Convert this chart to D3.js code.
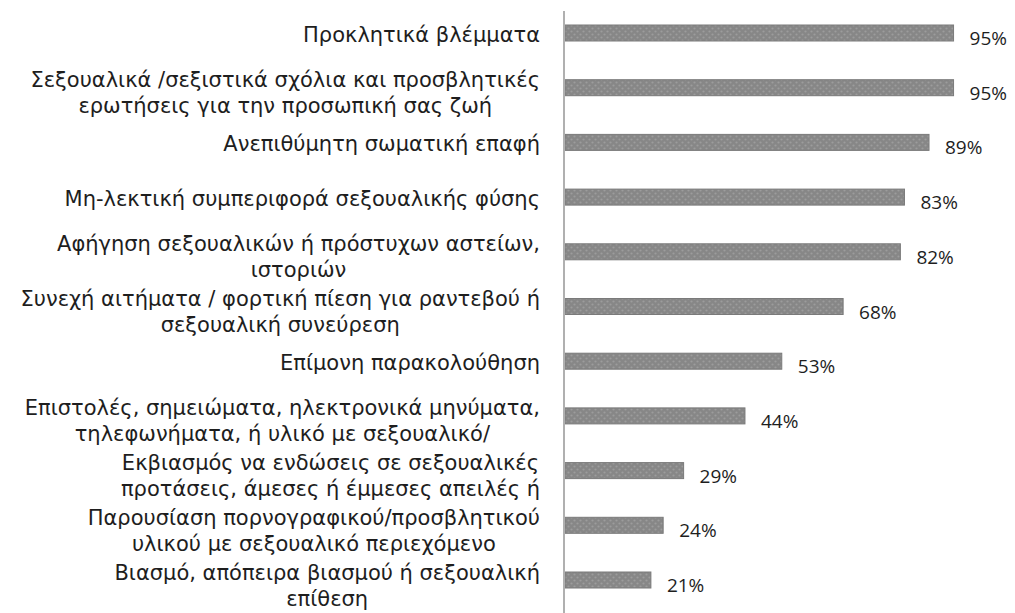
<!DOCTYPE html>
<html>
<head>
<meta charset="utf-8">
<script src="https://cdn.jsdelivr.net/npm/d3@7/dist/d3.min.js"></script>
<style>
  html, body { margin: 0; padding: 0; background: #fff; }
  svg { display: block; }
  text { font-family: "Open Sans", "Noto Sans", sans-serif; fill: #1e1e1e; }
  text.cat { font-family: "DejaVu Sans", "Open Sans", sans-serif; }
</style>
</head>
<body>
<svg id="chart" width="1015" height="613"></svg>
<script>
// Categories: each label is split into the lines it is drawn on
const categories = [
  ["Προκλητικά βλέμματα"],
  ["Σεξουαλικά /σεξιστικά σχόλια και προσβλητικές", "ερωτήσεις για την προσωπική σας ζωή"],
  ["Ανεπιθύμητη σωματική επαφή"],
  ["Μη-λεκτική συμπεριφορά σεξουαλικής φύσης"],
  ["Αφήγηση σεξουαλικών ή πρόστυχων αστείων,", "ιστοριών"],
  ["Συνεχή αιτήματα / φορτική πίεση για ραντεβού ή", "σεξουαλική συνεύρεση"],
  ["Επίμονη παρακολούθηση"],
  ["Επιστολές, σημειώματα, ηλεκτρονικά μηνύματα,", "τηλεφωνήματα, ή υλικό με σεξουαλικό/"],
  ["Εκβιασμός να ενδώσεις σε σεξουαλικές", "προτάσεις, άμεσες ή έμμεσες απειλές ή"],
  ["Παρουσίαση πορνογραφικού/προσβλητικού", "υλικού με σεξουαλικό περιεχόμενο"],
  ["Βιασμό, απόπειρα βιασμού ή σεξουαλική", "επίθεση"]
];
// Share of respondents (%)
const values = [95, 95, 89, 83, 82, 68, 53, 44, 29, 24, 21];

const svg = d3.select("#chart");
const axisX = 564;
const labelRight = 540;

const x = d3.scaleLinear().domain([0, 100]).range([axisX + 1, axisX + 1 + 409]);
const y = d3.scalePoint().domain(d3.range(categories.length)).range([33, 580]);
const barH = 16;

// dotted texture for the bars
const defs = svg.append("defs");
const pat = defs.append("pattern")
  .attr("id", "dots").attr("patternUnits", "userSpaceOnUse")
  .attr("width", 6).attr("height", 6);
pat.append("rect").attr("width", 6).attr("height", 6).attr("fill", "#878787");
pat.append("circle").attr("cx", 1.5).attr("cy", 1.5).attr("r", 1.1).attr("fill", "#9c9c9c");
pat.append("circle").attr("cx", 4.5).attr("cy", 4.5).attr("r", 1.1).attr("fill", "#9c9c9c");

// bars
svg.append("g").selectAll("rect")
  .data(values)
  .join("rect")
  .attr("x", x(0))
  .attr("y", (d, i) => y(i) - barH / 2)
  .attr("width", d => x(d) - x(0))
  .attr("height", barH)
  .attr("fill", "url(#dots)")
  .attr("stroke", "#7a7a7a")
  .attr("stroke-width", 1);

// vertical category axis line
svg.append("line")
  .attr("x1", axisX).attr("x2", axisX)
  .attr("y1", 11).attr("y2", 613)
  .attr("stroke", "#b0b0b0").attr("stroke-width", 2);

// category labels: lines centred within a block that is right-aligned to the axis
const fontSize = 21;
const labelG = svg.append("g");
categories.forEach((lines, i) => {
  const g = labelG.append("g");
  const cy = y(i);
  const texts = lines.map((ln, k) => {
    const dy = lines.length === 1 ? 2 : (k === 0 ? -7.5 : 18.5);
    return g.append("text")
      .attr("class", "cat")
      .attr("y", cy + dy)
      .attr("dominant-baseline", "central")
      .attr("font-size", fontSize)
      .text(ln);
  });
  const widths = texts.map(t => t.node().getComputedTextLength());
  const maxW = d3.max(widths);
  const cx = labelRight - maxW / 2;
  texts.forEach(t => t.attr("x", cx).attr("text-anchor", "middle"));
});

// value labels
svg.append("g").selectAll("text")
  .data(values)
  .join("text")
  .attr("x", d => x(d) + 16)
  .attr("y", (d, i) => y(i) + 5)
  .attr("dominant-baseline", "central")
  .attr("font-size", 19)
  .attr("fill", "#222")
  .text(d => d + "%");
</script>
</body>
</html>
